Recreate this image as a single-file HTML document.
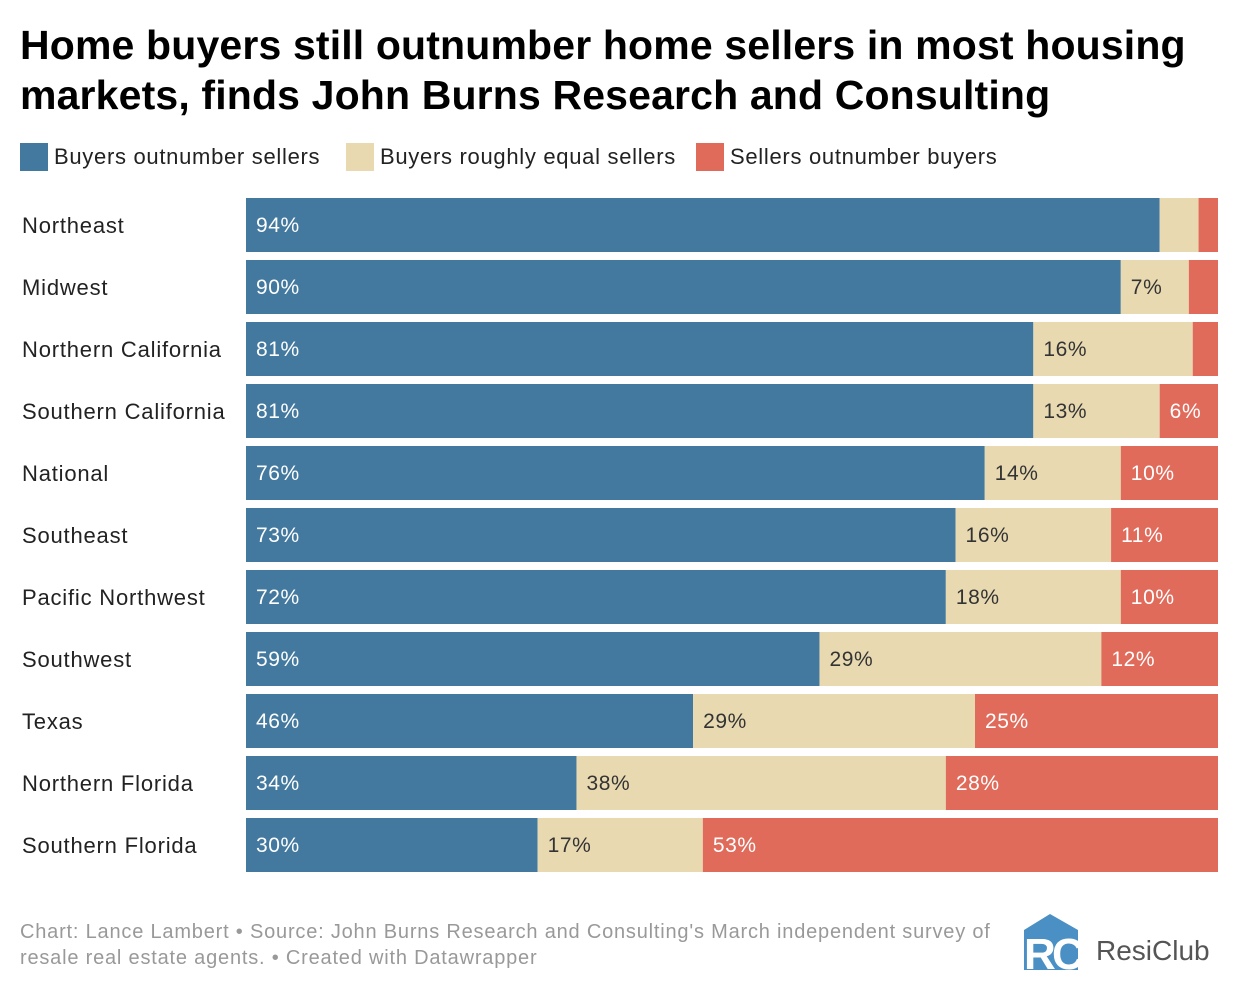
<!DOCTYPE html>
<html><head><meta charset="utf-8"><style>
body{margin:0;width:1240px;height:994px;background:#fff;font-family:"Liberation Sans",sans-serif;overflow:hidden;position:relative}
h1{position:absolute;left:20px;top:20px;margin:0;font-size:41px;line-height:50px;font-weight:bold;color:#000;letter-spacing:0.15px;white-space:nowrap}
.leg{position:absolute;top:143px;height:28px;font-size:22px;line-height:28px;color:#222;display:flex;align-items:center;letter-spacing:0.7px;white-space:nowrap}
.leg i{display:inline-block;width:28px;height:28px;margin-right:6px}
.foot{position:absolute;left:20px;top:919px;font-size:20px;line-height:26px;color:#999;letter-spacing:0.8px;white-space:nowrap}
</style></head><body>
<h1>Home buyers still outnumber home sellers in most housing<br>markets, finds John Burns Research and Consulting</h1>
<div class="leg" style="left:20px"><i style="background:#43799f"></i>Buyers outnumber sellers</div>
<div class="leg" style="left:346px"><i style="background:#e8d9b1"></i>Buyers roughly equal sellers</div>
<div class="leg" style="left:696px"><i style="background:#e06b5b"></i>Sellers outnumber buyers</div>
<svg id="chart" width="1240" height="994" style="position:absolute;left:0;top:0"></svg>
<div class="foot">Chart: Lance Lambert • Source: John Burns Research and Consulting's March independent survey of<br>resale real estate agents. • Created with Datawrapper</div>
<svg style="position:absolute;left:1022px;top:912px" width="200" height="60">
<polygon points="2,18 28,2 56,18 56,58 2,58" fill="#4a90c4"/>
<text x="2" y="57" font-size="44" font-weight="bold" fill="#fff" font-family="Liberation Sans">R</text>
<text x="30" y="57" font-size="44" font-weight="bold" fill="#fff" font-family="Liberation Sans">C</text>
<text x="74" y="48" font-size="28" fill="#555" font-family="Liberation Sans">ResiClub</text>
</svg>
<script>
const categories=["Northeast","Midwest","Northern California","Southern California","National","Southeast","Pacific Northwest","Southwest","Texas","Northern Florida","Southern Florida"];
const buyers=[94,90,81,81,76,73,72,59,46,34,30];
const equal=[4,7,16.4,13,14,16,18,29,29,38,17];
const sellers=[2,3,2.6,6,10,11,10,12,25,28,53];
const showEqual=[false,true,true,true,true,true,true,true,true,true,true];
const showSellers=[false,false,false,true,true,true,true,true,true,true,true];
const svg=document.getElementById('chart');
const NS='http://www.w3.org/2000/svg';
const x0=246,x1=1218,top0=198,pitch=62,bh=54;
function xs(v,t){return (v/t)*(x1-x0);}
function yPos(i){return top0+i*pitch;}
const cols=['#43799f','#e8d9b1','#e06b5b'];
const tcols=['#fff','#333','#fff'];
const keys=['buyers','equal','sellers'];
categories.forEach((c,i)=>{
  const t=document.createElementNS(NS,'text');
  t.setAttribute('x',22);t.setAttribute('y',yPos(i)+bh/2+8);
  t.setAttribute('font-size','22');t.setAttribute('fill','#222');
  t.setAttribute('letter-spacing','0.8');
  t.setAttribute('font-family','Liberation Sans');
  t.textContent=c;
  
  
  svg.appendChild(t);
  const vals=[buyers[i],equal[i],sellers[i]];
  const show=[true,showEqual[i],showSellers[i]];
  const tot=vals[0]+vals[1]+vals[2];
  let x=x0;
  vals.forEach((v,k)=>{
    const w=xs(v,tot);
    const r=document.createElementNS(NS,'rect');
    r.setAttribute('x',x);r.setAttribute('y',yPos(i));r.setAttribute('width',w);r.setAttribute('height',bh);
    r.setAttribute('fill',cols[k]);
    
    
    svg.appendChild(r);
    if(show[k]){
      const l=document.createElementNS(NS,'text');
      l.setAttribute('x',x+10);l.setAttribute('y',yPos(i)+bh/2+7);
      l.setAttribute('font-size','21');l.setAttribute('fill',tcols[k]);
      l.setAttribute('letter-spacing','0.6');
      l.setAttribute('font-family','Liberation Sans');
      l.textContent=Math.round(v)+'%';
      
      
      svg.appendChild(l);
    }
    x+=w;
  });
});
</script>
</body></html>
